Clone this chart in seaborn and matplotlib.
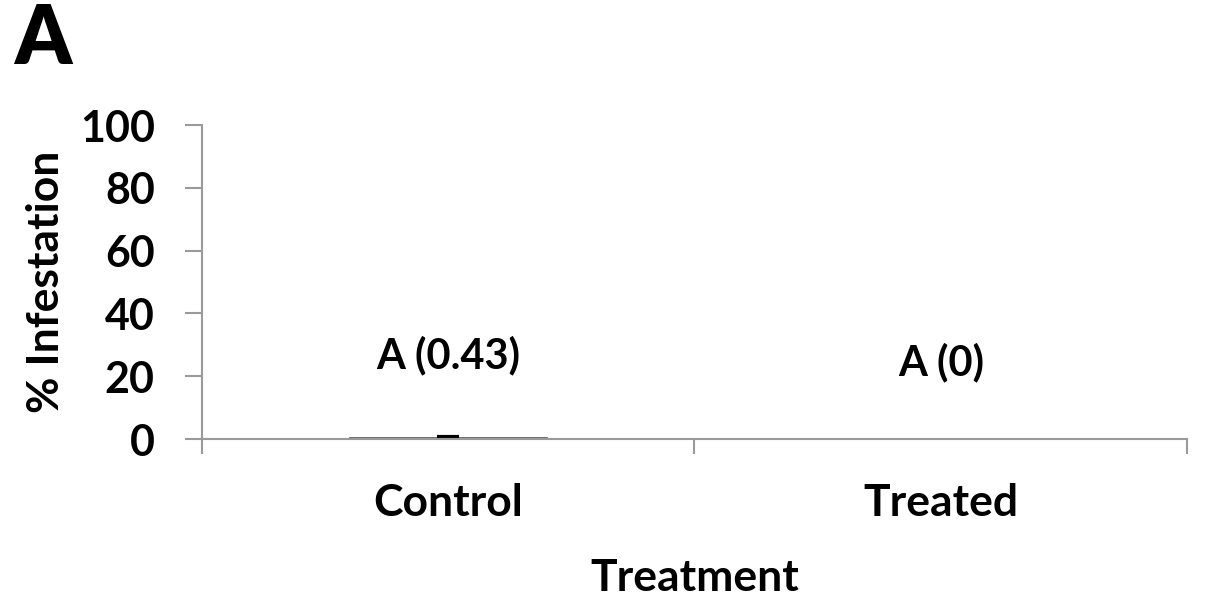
import matplotlib
matplotlib.use("Agg")
import matplotlib.pyplot as plt
import seaborn as sns
import pandas as pd
from matplotlib.ticker import FixedLocator

# Mean % infestation per treatment, with standard error and letter group
treatments = ["Control", "Treated"]
infestation = [0.43, 0.0]
std_err = [0.35, 0.0]
labels = ["A (0.43)", "A (0)"]
label_y = [26.7, 24.5]
y_ticks = [0, 20, 40, 60, 80, 100]

df = pd.DataFrame({"Treatment": treatments, "Infestation": infestation})

sns.set_theme(style="white")
plt.rcParams["font.family"] = ["Lato", "DejaVu Sans"]
plt.rcParams["font.weight"] = "bold"

fig = plt.figure(figsize=(12.2, 5.99), dpi=100)
ax = fig.add_axes([202 / 1220, 1 - 439 / 599, (1187 - 202) / 1220, (439 - 125) / 599])

spine_col = "#9a9a9a"
sns.barplot(data=df, x="Treatment", y="Infestation", ax=ax, width=0.4,
            color="#d9d9d9", edgecolor="#555555", linewidth=1.2, errorbar=None)

# error bars only where there is spread
err_x = [i for i, e in enumerate(std_err) if e > 0]
ax.errorbar(err_x, [infestation[i] for i in err_x], yerr=[std_err[i] for i in err_x],
            fmt="none", ecolor="black", elinewidth=2, capsize=8, capthick=3)

for i, (lab, ly) in enumerate(zip(labels, label_y)):
    ax.text(i, ly, lab, ha="center", va="center",
            fontsize=30, fontweight="bold", color="black")

ax.set_xlim(-0.5, 1.5)
ax.set_ylim(0, 100)
ax.set_yticks(y_ticks)
ax.set_yticklabels([str(t) for t in y_ticks], fontsize=31, fontweight="bold")
ax.set_xticks(range(len(treatments)))
ax.set_xticklabels(treatments, fontsize=32, fontweight="bold")
ax.xaxis.set_minor_locator(FixedLocator([-0.5, 0.5, 1.5]))
ax.tick_params(axis="x", which="major", length=0, pad=32, colors="black")
ax.tick_params(axis="x", which="minor", bottom=True, length=11, width=1.5, color=spine_col)
ax.tick_params(axis="y", which="major", left=True, length=12, width=1.5, color=spine_col,
               pad=22, labelcolor="black")

ax.set_xlabel("Treatment", fontsize=32, fontweight="bold", labelpad=25, color="black")
ax.set_ylabel("% Infestation", fontsize=32, fontweight="bold", labelpad=10, color="black")

for s in ["top", "right"]:
    ax.spines[s].set_visible(False)
for s in ["left", "bottom"]:
    ax.spines[s].set_color(spine_col)
    ax.spines[s].set_linewidth(1.5)

fig.text(14 / 1220, 1 - 41 / 599, "A", fontsize=58, fontweight="heavy",
         ha="left", va="center", color="black")

fig.savefig("out.png", dpi=100, facecolor="white")
